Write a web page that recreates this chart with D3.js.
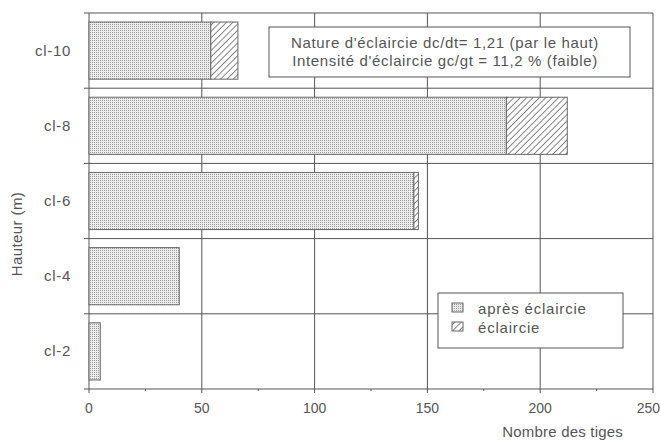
<!DOCTYPE html>
<html><head><meta charset="utf-8">
<script src="https://cdn.jsdelivr.net/npm/d3@7"></script>
<style>body{margin:0;background:#fff}svg{display:block}text{font-family:"Liberation Sans",Arial,sans-serif;fill:#555}</style>
</head><body><svg id="c" width="660" height="440"></svg>
<script>
const categories = ["cl-10","cl-8","cl-6","cl-4","cl-2"];
const apres = [54, 185, 144, 40, 5];
const eclaircie = [12, 27, 2, 0, 0];
const xTicks = [0,50,100,150,200,250];
const minorTicks = [25,75,125,175,225];
const infoLines = ["Nature d'éclaircie dc/dt= 1,21 (par le haut)","Intensité d'éclaircie gc/gt = 11,2 % (faible)"];
const legendLabels = ["après éclaircie","éclaircie"];

const svg = d3.select("#c");
const L=89,R=653,T=13,B=389;
const x = d3.scaleLinear().domain([0,250]).range([L,R]);
const y = d3.scaleBand().domain(categories).range([T,B]).paddingInner(0.24).paddingOuter(0.12);
const lc="#555";

const defs = svg.append("defs");
const dots = defs.append("pattern").attr("id","dots").attr("width",2).attr("height",2).attr("patternUnits","userSpaceOnUse");
dots.append("rect").attr("width",2).attr("height",2).attr("fill","#ececec");
dots.append("rect").attr("width",1).attr("height",1).attr("fill","#9a9a9a");
const hatch = defs.append("pattern").attr("id","hatch").attr("width",4.5).attr("height",4.5).attr("patternUnits","userSpaceOnUse").attr("patternTransform","rotate(45)");
hatch.append("rect").attr("width",4.5).attr("height",4.5).attr("fill","#fff");
hatch.append("line").attr("x1",0).attr("y1",0).attr("x2",0).attr("y2",4.5).attr("stroke","#555").attr("stroke-width",1.4);

// grid
const g = svg.append("g");
g.selectAll(".vg").data(xTicks.slice(1)).join("line").attr("x1",d=>x(d)).attr("x2",d=>x(d)).attr("y1",T).attr("y2",B+4).attr("stroke",lc);
g.append("line").attr("x1",L).attr("x2",L).attr("y1",T).attr("y2",B+4).attr("stroke",lc);
const bounds = categories.map(c=>y(c)-y.step()*y.paddingInner()/2).concat([B]);
bounds[0]=T;
g.selectAll(".hg").data(bounds).join("line").attr("x1",L-5).attr("x2",R).attr("y1",d=>d).attr("y2",d=>d).attr("stroke",lc);
g.selectAll(".mt").data(minorTicks).join("line").attr("x1",d=>x(d)).attr("x2",d=>x(d)).attr("y1",B).attr("y2",B+2).attr("stroke",lc);

// bars
const bars = svg.append("g");
bars.selectAll(".a").data(categories).join("rect")
  .attr("x",x(0)).attr("y",d=>y(d)).attr("width",(d,i)=>x(apres[i])-x(0)).attr("height",y.bandwidth())
  .attr("fill","url(#dots)").attr("stroke","#666").attr("stroke-width",1);
bars.selectAll(".e").data(categories.filter((d,i)=>eclaircie[i]>0)).join("rect")
  .attr("x",d=>x(apres[categories.indexOf(d)])).attr("y",d=>y(d))
  .attr("width",d=>x(eclaircie[categories.indexOf(d)])-x(0)).attr("height",y.bandwidth())
  .attr("fill","url(#hatch)").attr("stroke","#666").attr("stroke-width",1);

// axes labels
svg.selectAll(".xl").data(xTicks).join("text").attr("x",(d,i)=>i===xTicks.length-1?660:x(d)).attr("y",413)
  .attr("text-anchor",(d,i)=>i===xTicks.length-1?"end":"middle").attr("font-size",14).text(d=>d);
svg.selectAll(".yl").data(categories).join("text").attr("x",71).attr("y",d=>y(d)+y.bandwidth()/2+5).attr("text-anchor","end").attr("font-size",15).attr("letter-spacing",0.7).text(d=>d);
svg.append("text").attr("x",623).attr("y",437).attr("text-anchor","end").attr("font-size",15).attr("letter-spacing",0.2).text("Nombre des tiges");
svg.append("text").attr("transform","translate(22,234) rotate(-90)").attr("text-anchor","middle").attr("font-size",15).attr("letter-spacing",0.4).text("Hauteur (m)");

// info box
svg.append("rect").attr("x",269).attr("y",27).attr("width",361).attr("height",50).attr("fill","#fff").attr("stroke",lc);
svg.selectAll(".il").data(infoLines).join("text").attr("x",445).attr("y",(d,i)=>48+i*18).attr("text-anchor","middle").attr("font-size",15).attr("letter-spacing",0.65).text(d=>d);

// legend
svg.append("rect").attr("x",438).attr("y",293).attr("width",185).attr("height",55).attr("fill","#fff").attr("stroke",lc);
const fills=["url(#dots)","url(#hatch)"];
svg.selectAll(".ls").data(legendLabels).join("rect").attr("x",452).attr("y",(d,i)=>303+i*19).attr("width",11).attr("height",9).attr("fill",(d,i)=>fills[i]).attr("stroke","#666");
svg.selectAll(".lt").data(legendLabels).join("text").attr("x",478).attr("y",(d,i)=>314+i*19).attr("font-size",15).attr("letter-spacing",0.8).text(d=>d);
</script></body></html>
